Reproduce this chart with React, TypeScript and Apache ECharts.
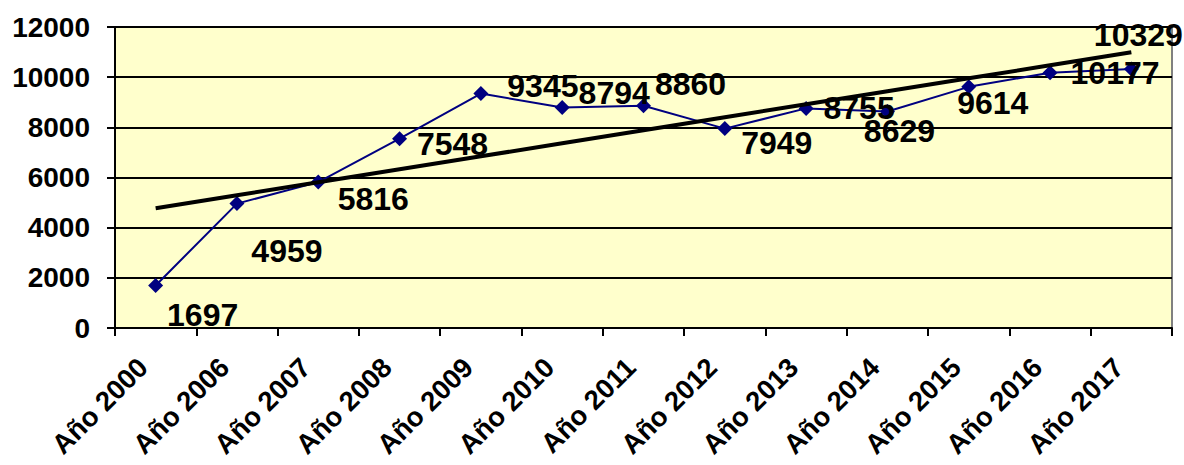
import React, { useEffect, useRef } from "react";
import * as echarts from "echarts";

const categories = [
  "Año 2000", "Año 2006", "Año 2007", "Año 2008", "Año 2009", "Año 2010", "Año 2011",
  "Año 2012", "Año 2013", "Año 2014", "Año 2015", "Año 2016", "Año 2017",
];
const values = [1697, 4959, 5816, 7548, 9345, 8794, 8860, 7949, 8755, 8629, 9614, 10177, 10329];
const yTicks = { min: 0, max: 12000, interval: 2000 };
// label offsets (dx, dy) from each point, in pixels
const labelOffsets: [number, number][] = [
  [47, 30], [50, 47], [55, 17], [53, 5], [62, -8], [52, -14], [47, -22],
  [52, 14], [53, 0], [12, 19], [24, 16], [65, 0], [7, -34],
];

function linearTrend(v: number[]): number[] {
  const n = v.length;
  const xs = v.map((_, i) => i + 1);
  const mx = xs.reduce((a, b) => a + b, 0) / n;
  const my = v.reduce((a, b) => a + b, 0) / n;
  let sxy = 0, sxx = 0;
  for (let i = 0; i < n; i++) {
    sxy += (xs[i] - mx) * (v[i] - my);
    sxx += (xs[i] - mx) ** 2;
  }
  const b = sxy / sxx;
  const a = my - b * mx;
  return xs.map((x) => a + b * x);
}

export default function App() {
  const ref = useRef<HTMLDivElement>(null);
  useEffect(() => {
    document.body.style.margin = "0";
    const chart = echarts.init(ref.current!, null, { renderer: "svg" });
    const trend = linearTrend(values);
    const font = "'Liberation Sans', Arial, sans-serif";
    chart.setOption({
      animation: false,
      backgroundColor: "#ffffff",
      grid: {
        left: 115, right: 12, top: 27, bottom: 137,
        outerBoundsMode: "none", containLabel: false,
        show: true, backgroundColor: "#FFFFCC", borderColor: "#808080", borderWidth: 2,
      },
      xAxis: {
        type: "category",
        data: categories,
        boundaryGap: true,
        axisLine: { show: true, lineStyle: { color: "#000", width: 2 } },
        axisTick: { show: true, length: 8, lineStyle: { color: "#000", width: 2 } },
        axisLabel: {
          rotate: 45, interval: 0, margin: 22, padding: [0, 18, 0, 0],
          fontFamily: font, fontWeight: "bold", fontSize: 27.5, color: "#000",
        },
        splitLine: { show: false },
      },
      yAxis: {
        type: "value",
        min: yTicks.min, max: yTicks.max, interval: yTicks.interval,
        axisLine: { show: true, lineStyle: { color: "#000", width: 2 } },
        axisTick: { show: true, length: 8, lineStyle: { color: "#000", width: 2 } },
        axisLabel: {
          margin: 25, fontFamily: font, fontWeight: "bold", fontSize: 28, color: "#000",
          formatter: (v: number) => String(v),
        },
        splitLine: { show: true, lineStyle: { color: "#000", width: 2 } },
      },
      series: [
        {
          type: "line",
          data: values.map((v, i) => ({
            value: v,
            label: { offset: labelOffsets[i] },
          })),
          symbol: "diamond",
          symbolSize: 15,
          lineStyle: { color: "#000080", width: 2 },
          itemStyle: { color: "#000080" },
          label: {
            show: true, position: "inside",
            fontFamily: font, fontWeight: "bold", fontSize: 32, color: "#000",
          },
          z: 3,
        },
        {
          type: "line",
          data: trend,
          symbol: "none",
          lineStyle: { color: "#000", width: 4 },
          silent: true,
          z: 4,
        },
      ],
    });
    return () => chart.dispose();
  }, []);
  return <div ref={ref} style={{ width: 1184, height: 465 }} />;
}
